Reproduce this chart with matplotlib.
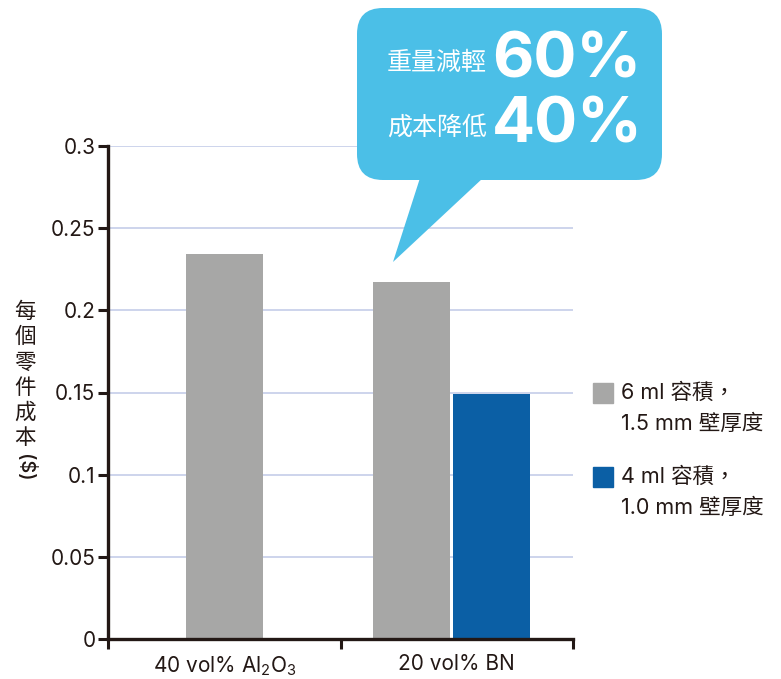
import matplotlib
matplotlib.use("Agg")
import matplotlib.pyplot as plt
from matplotlib.patches import FancyBboxPatch, Polygon, Rectangle
import numpy as np

# ---- data ----
categories = ["40 vol% Al$_2$O$_3$", "20 vol% BN"]
series_names = ["6 ml 容積，\n1.5 mm 壁厚度", "4 ml 容積，\n1.0 mm 壁厚度"]
cost_6ml = [0.234, 0.217]
cost_4ml = [None, 0.149]
y_ticks = [0, 0.05, 0.1, 0.15, 0.2, 0.25, 0.3]
y_tick_labels = ["0", "0.05", "0.1", "0.15", "0.2", "0.25", "0.3"]
y_label_chars = ["每", "個", "零", "件", "成", "本"]
y_label_unit = "($)"
callout_lines = [("重量減輕", "60%"), ("成本降低", "40%")]

# ---- style ----
FAM = ["Inter", "Noto Sans CJK TC", "DejaVu Sans"]
plt.rcParams["font.family"] = FAM
plt.rcParams["mathtext.fontset"] = "custom"
plt.rcParams["mathtext.rm"] = "Inter"
plt.rcParams["mathtext.it"] = "Inter:italic"
plt.rcParams["mathtext.bf"] = "Inter:bold"
DARK = "#231815"
GRAY = "#a7a7a6"
BLUE = "#0b5fa5"
GRID = "#c9d1ea"
BUBBLE = "#4bbfe7"

W, H = 781, 679
fig = plt.figure(figsize=(W / 100, H / 100), dpi=100)
ax = fig.add_axes([108 / W, 1 - 639 / H, (573 - 108) / W, (639 - 146) / H])

bw = 0.33
for i, cat in enumerate(categories):
    if cost_4ml[i] is None:
        ax.bar(i, cost_6ml[i], width=bw, color=GRAY, zorder=3)
    else:
        ax.bar(i - 0.195, cost_6ml[i], width=bw, color=GRAY, zorder=3)
        ax.bar(i + 0.15, cost_4ml[i], width=bw, color=BLUE, zorder=3)

ax.set_xlim(-0.5, 1.5)
ax.set_ylim(0, 0.3)
ax.set_yticks(y_ticks)
ax.set_yticklabels(y_tick_labels, fontsize=15, color=DARK)
for y in y_ticks[1:]:
    ax.axhline(y, color=GRID, lw=1.3, zorder=1)

ax.set_xticks([-0.5, 0.5, 1.5])
ax.set_xticklabels([])
ax.set_xticks([0, 1], minor=True)
ax.set_xticklabels(categories, minor=True, fontsize=15, color=DARK)
ax.tick_params(axis="x", which="minor", length=0, pad=11)
ax.tick_params(axis="x", which="major", length=7, width=2.2, color=DARK, direction="out")
ax.tick_params(axis="y", length=7, width=2.2, color=DARK, direction="out", pad=2)

for s in ["top", "right"]:
    ax.spines[s].set_visible(False)
for s in ["left", "bottom"]:
    ax.spines[s].set_linewidth(2.4)
    ax.spines[s].set_color(DARK)
    ax.spines[s].set_zorder(5)
ax.spines["bottom"].set_capstyle("projecting")

# ---- overlay for annotations (pixel coordinates) ----
ov = fig.add_axes([0, 0, 1, 1], zorder=10)
ov.set_xlim(0, W)
ov.set_ylim(H, 0)
ov.axis("off")
ov.patch.set_alpha(0)

# y label, vertical CJK
for k, ch in enumerate(y_label_chars):
    ov.text(25, 312 + k * 25.2, ch, ha="center", va="center", fontsize=15.5,
            color=DARK, fontweight="medium", family=["Noto Sans CJK TC"])
ov.text(25, 468, y_label_unit, ha="center", va="center", fontsize=14.5,
        color=DARK, fontweight="medium", rotation=270, family=["Inter"])

# legend
legend_colors = [GRAY, BLUE]
legend_y = [383, 467]
for name, col, ly in zip(series_names, legend_colors, legend_y):
    ov.add_patch(Rectangle((593, ly), 20, 20, color=col))
    l1, l2 = name.split("\n")
    ov.text(621, ly + 10, l1, ha="left", va="center", fontsize=15.5, color=DARK, family=FAM)
    ov.text(621, ly + 41, l2, ha="left", va="center", fontsize=15.5, color=DARK, family=FAM)

# callout bubble
ov.add_patch(FancyBboxPatch((357, 8), 305, 172,
                            boxstyle="round,pad=0,rounding_size=26",
                            facecolor=BUBBLE, edgecolor="none"))
ov.add_patch(Polygon([(420, 178), (483, 178), (393, 262)], closed=True,
                     facecolor=BUBBLE, edgecolor="none"))
for (lab, pct), yc in zip(callout_lines, [63, 128]):
    ov.text(487, yc, lab, ha="right", va="center", fontsize=18, color="white",
            fontweight="medium", family=["Noto Sans CJK TC"])
    ov.text(492, yc - 2, pct, ha="left", va="center", fontsize=46, color="white",
            fontweight="bold", family=["Inter"])

fig.savefig("out.png", dpi=100)
